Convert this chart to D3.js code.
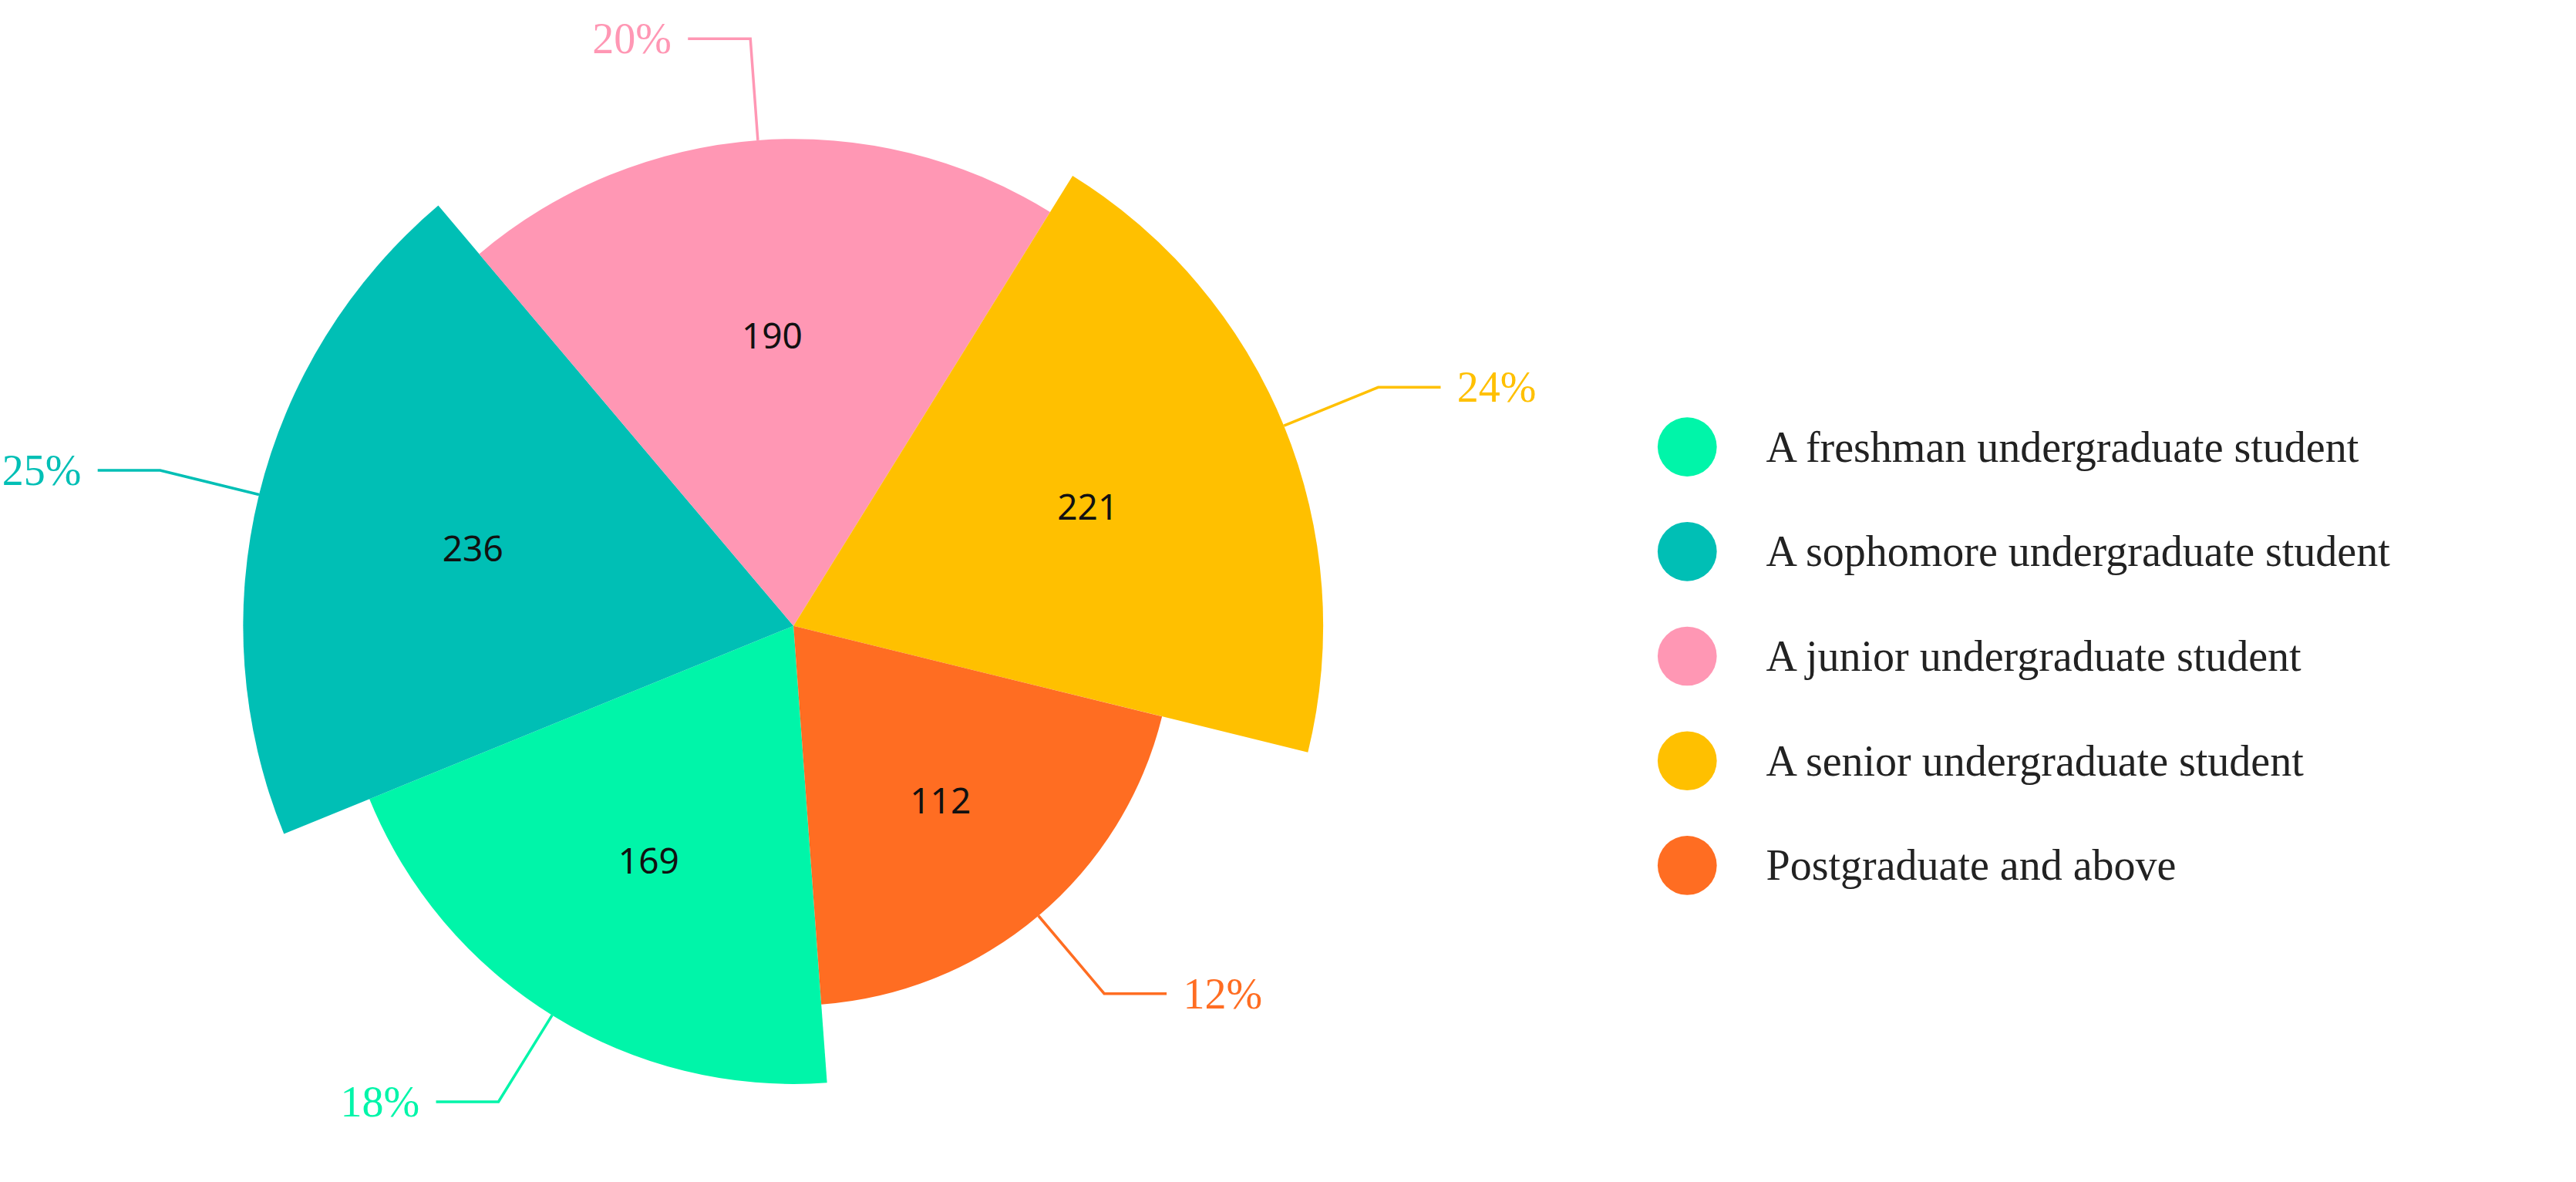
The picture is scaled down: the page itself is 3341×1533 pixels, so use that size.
<!DOCTYPE html>
<html><head><meta charset="utf-8">
<script src="https://cdn.jsdelivr.net/npm/d3@7/dist/d3.min.js"></script>
<style>body{margin:0;background:#fff}</style></head>
<body><svg id="c" width="3341" height="1533"></svg>
<script>
const categories = ["A freshman undergraduate student","A sophomore undergraduate student","A junior undergraduate student","A senior undergraduate student","Postgraduate and above"];
const values = [169,236,190,221,112];
const colors = ["#00F5A9","#00BFB5","#FF97B4","#FFC000","#FF6D22"];

const k = 3341/1568;
const svg = d3.select("#c");
const cx = 483*k, cy = 381*k;
const g = svg.append("g").attr("transform",`translate(${cx},${cy})`);
const total = d3.sum(values);
const rScale = d3.scaleLinear().domain(d3.extent(values)).range([231*k, 335*k]);
const start = 175.8*Math.PI/180;
const pie = d3.pie().value(1).sort(null).startAngle(start).endAngle(start+2*Math.PI);
const arcs = pie(values);
const arc = d3.arc().innerRadius(0).outerRadius(d=>rScale(d.data));
g.selectAll("path.s").data(arcs).enter().append("path")
  .attr("d",arc).attr("fill",(d,i)=>colors[i]);

// inner value labels
g.selectAll("text.v").data(arcs).enter().append("text")
  .attr("x",d=>{const a=(d.startAngle+d.endAngle)/2;return Math.sin(a)*rScale(d.data)*0.6;})
  .attr("y",d=>{const a=(d.startAngle+d.endAngle)/2;return -Math.cos(a)*rScale(d.data)*0.6;})
  .attr("text-anchor","middle").attr("dominant-baseline","central")
  .attr("font-family","Noto Sans, sans-serif").attr("font-size",46).attr("fill","#111")
  .text(d=>d.data);

// outer percentage labels
const L1 = 62*k, L2 = 38*k;
arcs.forEach((d,i)=>{
  const a=(d.startAngle+d.endAngle)/2, r=rScale(d.data);
  const x0=Math.sin(a)*r, y0=-Math.cos(a)*r;
  const x1=Math.sin(a)*(r+L1), y1=-Math.cos(a)*(r+L1);
  const right = Math.sin(a)>=0;
  const x2 = x1 + (right?L2:-L2);
  g.append("polyline").attr("points",`${x0},${y0} ${x1},${y1} ${x2},${y1}`)
    .attr("fill","none").attr("stroke",colors[i]).attr("stroke-width",3.5);
  g.append("text").attr("x",x2+(right?10*k:-10*k)).attr("y",y1)
    .attr("text-anchor",right?"start":"end").attr("dominant-baseline","central")
    .attr("font-family","Liberation Serif, serif").attr("font-size",56).attr("fill",colors[i])
    .text(Math.round(d.data/total*100)+"%");
});

// legend
const lg = svg.append("g");
categories.forEach((c,i)=>{
  const y=(272+i*63.7)*k;
  lg.append("circle").attr("cx",1027*k).attr("cy",y).attr("r",18*k).attr("fill",colors[i]);
  lg.append("text").attr("x",1075*k).attr("y",y).attr("dominant-baseline","central")
    .attr("font-family","Liberation Serif, serif").attr("font-size",56).attr("fill","#222").text(c);
});
</script></body></html>
